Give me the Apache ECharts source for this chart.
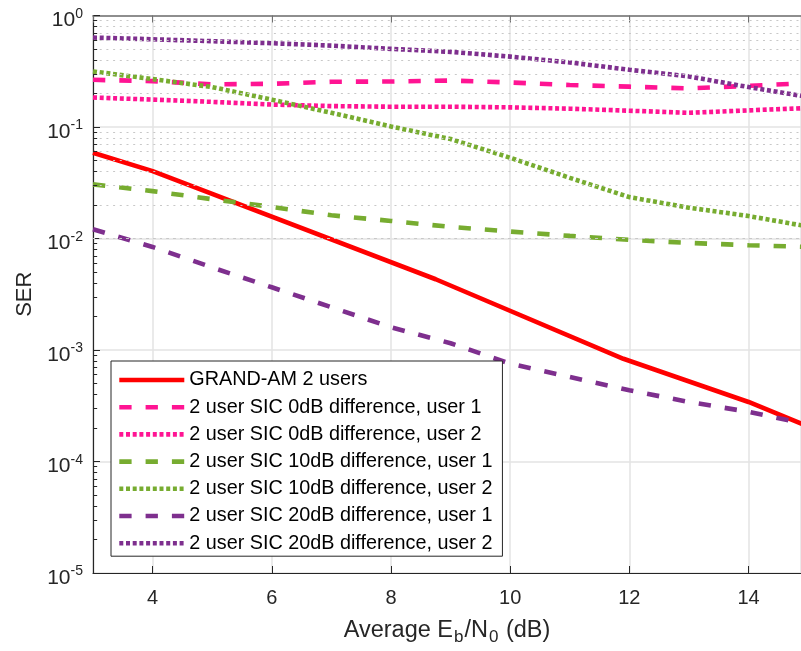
<!DOCTYPE html>
<html>
<head>
<meta charset="utf-8">
<script src="https://cdn.jsdelivr.net/npm/echarts@6/dist/echarts.min.js"></script>
<style>
    html, body { margin: 0; padding: 0; background: #fff; }
    #chart { width: 801px; height: 651px; }
</style>
</head>
<body>
<div id="chart"></div>
<script>
// 数据
var xMin = 3, xMax = 14.88;
var yMin = 1e-5, yMax = 1;

var grandX = [3, 4, 8.75, 11.9, 14, 15];
var grandY = [0.0587, 0.0402, 0.00431, 8.34e-4, 3.42e-4, 2.06e-4];

var snr = [3, 4, 5, 6, 7, 8, 9, 10, 11, 12, 13, 14, 15];
var sic0u1 = [0.265, 0.258, 0.241, 0.244, 0.2545, 0.256, 0.261, 0.251, 0.238, 0.230, 0.222, 0.234, 0.248];
var sic0u2 = [0.184, 0.176, 0.168, 0.159, 0.154, 0.152, 0.152, 0.150, 0.146, 0.140, 0.134, 0.141, 0.148];
var sic10u1 = [0.0306, 0.0266, 0.0225, 0.0192, 0.01615, 0.01437, 0.0127, 0.01155, 0.01055, 0.00972, 0.00914, 0.0087, 0.0084];
var sic10u2 = [0.315, 0.269, 0.228, 0.176, 0.134, 0.101, 0.078, 0.053, 0.035, 0.0235, 0.0189, 0.0159, 0.0128];
var sic20u1 = [0.0121, 0.0084, 0.0055, 0.00365, 0.00242, 0.0016, 0.00115, 7.53e-4, 5.73e-4, 4.35e-4, 3.42e-4, 2.79e-4, 2.15e-4];
var sic20u2 = [0.634, 0.612, 0.588, 0.564, 0.537, 0.502, 0.472, 0.428, 0.379, 0.326, 0.284, 0.228, 0.186];

var names = [
    "GRAND-AM 2 users",
    "2 user SIC 0dB difference, user 1",
    "2 user SIC 0dB difference, user 2",
    "2 user SIC 10dB difference, user 1",
    "2 user SIC 10dB difference, user 2",
    "2 user SIC 20dB difference, user 1",
    "2 user SIC 20dB difference, user 2"
];

// log 次刻度 2..9 x 10^k
var minorVals = [];
for (var k = -5; k < 0; k++) {
    for (var m = 2; m <= 9; m++) {
        minorVals.push(m * Math.pow(10, k));
    }
}

function pairs(xs, ys) {
    return xs.map(function (x, i) { return [x, ys[i]]; });
}

(function () {
    var myChart = echarts.init(document.getElementById("chart"));
    var font = "Liberation Sans, Arial, Helvetica, sans-serif";
    var lw = 4.6;
    var dash = [12.3, 14];
    var dot = [4, 2.7];

    function lineSeries(name, data, color, type) {
        return {
            name: name,
            type: "line",
            data: data,
            symbol: "none",
            showSymbol: false,
            clip: true,
            z: 3,
            lineStyle: { color: color, width: lw, type: type, cap: "butt" },
            itemStyle: { color: color }
        };
    }

    var option = {
        backgroundColor: "#fff",
        animation: false,
        textStyle: { fontFamily: font },
        grid: { left: 93, right: 0, top: 15.5, bottom: 76 },
        legend: {
            data: names,
            orient: "vertical",
            left: 111,
            top: 361,
            itemWidth: 65,
            itemHeight: 14,
            itemGap: 5.2,
            padding: [8, 10, 2, 6],
            borderColor: "#262626",
            borderWidth: 1,
            backgroundColor: "#fff",
            itemStyle: { opacity: 0 },
            lineStyle: { width: lw },
            textStyle: { fontSize: 19.8, color: "#000", fontFamily: font, lineHeight: 22 }
        },
        xAxis: [
            {
                type: "value",
                min: xMin,
                max: xMax,
                splitNumber: 6,
                name: "Average E{sub|b}/N{sub|0} (dB)",
                nameLocation: "middle",
                nameGap: 42,
                nameTextStyle: {
                    fontSize: 23.5, color: "#262626", fontFamily: font,
                    rich: { sub: { fontSize: 17, padding: [14, 1, 0, 1], color: "#262626", fontFamily: font } }
                },
                axisLine: { lineStyle: { color: "#262626", width: 1.2 } },
                axisTick: { inside: true, length: 7, lineStyle: { color: "#262626" } },
                axisLabel: { fontSize: 20, color: "#262626", margin: 15, showMinLabel: false, showMaxLabel: false },
                splitLine: { show: true, lineStyle: { color: "#e3e3e3", width: 1.5 } }
            },
            {
                type: "value",
                position: "top",
                min: xMin,
                max: xMax,
                splitNumber: 6,
                axisLine: { lineStyle: { color: "#707070", width: 1.5 } },
                axisTick: { inside: true, length: 7, lineStyle: { color: "#707070" } },
                axisLabel: { show: false },
                splitLine: { show: false }
            }
        ],
        yAxis: {
            type: "log",
            logBase: 10,
            min: yMin,
            max: yMax,
            splitNumber: 5,
            name: "SER",
            nameLocation: "middle",
            nameGap: 55,
            nameTextStyle: { fontSize: 22, color: "#262626", fontFamily: font },
            axisLine: { show: true, lineStyle: { color: "#262626", width: 1.2 } },
            axisTick: { inside: true, length: 7, lineStyle: { color: "#262626" } },
            axisLabel: {
                margin: 10,
                color: "#262626",
                formatter: function (v) {
                    var e = Math.round(Math.log(v) / Math.LN10);
                    return "{b|10}{e|" + e + "}";
                },
                rich: {
                    b: { fontSize: 21, color: "#262626", fontFamily: font, padding: [10, 0, 0, 0] },
                    e: { fontSize: 14, color: "#262626", fontFamily: font, padding: [0, 0, 3, 0] }
                }
            },
            splitLine: { show: true, lineStyle: { color: "#e3e3e3", width: 1.5 } }
        },
        series: [
            // 次网格线 + 次刻度
            {
                name: "minor",
                type: "line",
                data: [],
                silent: true,
                z: 1,
                markLine: {
                    silent: true,
                    symbol: ["none", "none"],
                    animation: false,
                    label: { show: false },
                    lineStyle: { color: "#c8c8c8", width: 1, type: [2, 4.7] },
                    data: minorVals.map(function (v) { return { yAxis: v }; })
                }
            },
            {
                name: "minorTick",
                type: "line",
                data: [],
                silent: true,
                z: 1,
                markLine: {
                    silent: true,
                    symbol: ["none", "none"],
                    animation: false,
                    label: { show: false },
                    lineStyle: { color: "#262626", width: 1, type: "solid" },
                    data: minorVals.map(function (v) {
                        return [{ coord: [xMin, v] }, { coord: [xMin + 0.07, v] }];
                    })
                }
            },
            lineSeries(names[0], pairs(grandX, grandY), "#ff0000", "solid"),
            lineSeries(names[1], pairs(snr, sic0u1), "#ff1493", dash),
            lineSeries(names[2], pairs(snr, sic0u2), "#ff1493", dot),
            lineSeries(names[3], pairs(snr, sic10u1), "#77ac30", dash),
            lineSeries(names[4], pairs(snr, sic10u2), "#77ac30", dot),
            lineSeries(names[5], pairs(snr, sic20u1), "#7e2f8e", dash),
            lineSeries(names[6], pairs(snr, sic20u2), "#7e2f8e", dot)
        ]
    };
    myChart.setOption(option);
    window.addEventListener("resize", function () {
        myChart.resize();
    });
})();
</script>
</body>
</html>
